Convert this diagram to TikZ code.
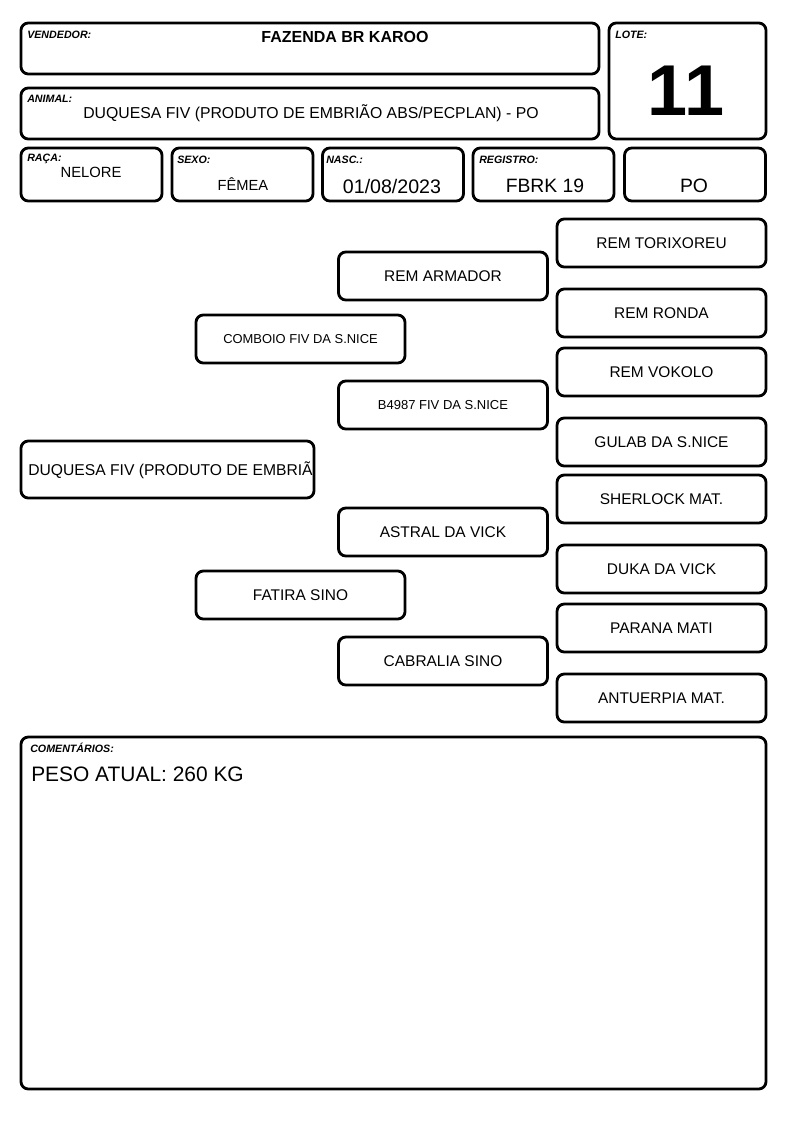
\documentclass[tikz,border=0pt]{standalone}
\usepackage{fontspec}
\setmainfont{Liberation Sans}
\usetikzlibrary{positioning}
\tikzstyle{box} = [rectangle, rounded corners=5.5pt, draw=black, line width=2.1pt, inner sep=0pt, outer sep=0pt]
\tikzstyle{field} = [box, minimum width=105.75pt, minimum height=39.75pt]
\tikzstyle{ancestor} = [box, minimum width=156.75pt, minimum height=36pt, font=\fontsize{11.6}{14}\selectfont]
\tikzstyle{tag} = [anchor=west, inner sep=0pt, font=\fontsize{8}{9}\selectfont\bfseries\itshape]
\tikzstyle{value} = [inner sep=0pt, font=\fontsize{12}{14}\selectfont]

\begin{document}
\begin{tikzpicture}[x=0.75pt, y=-0.75pt]
                \useasboundingbox (0,0) rectangle (794,1123);
                % header
                \node (vendedor) [box, minimum width=433.5pt, minimum height=38.25pt] at (310,48.5) {};
                \node (lote) [box, minimum width=117.75pt, minimum height=87pt] at (687.5,81) {};
                \node (animal) [box, minimum width=433.5pt, minimum height=38.25pt] at (310,113.5) {};
                \node (raca) [field] at (91.5,174.5) {};
                \node (sexo) [field] at (242.5,174.5) {};
                \node (nasc) [field] at (393,174.5) {};
                \node (registro) [field] at (543.5,174.5) {};
                \node (categoria) [field] at (695,174.5) {};

                \node [tag] at (27,35) {VENDEDOR:};
                \node [value, font=\fontsize{12}{14}\selectfont\bfseries] at (345,37) {FAZENDA BR KAROO};
                \node [tag] at (615,35) {LOTE:};
                \node [value, font=\fontsize{54}{56}\selectfont\bfseries] at (686,91) {11};
                \node [tag] at (27,99) {ANIMAL:};
                \node [value, anchor=west, font=\fontsize{11.85}{14}\selectfont] at (83,113) {DUQUESA FIV (PRODUTO DE EMBRIÃO ABS/PECPLAN) - PO};
                \node [tag] at (27,159) {RAÇA:};
                \node [value, font=\fontsize{11.1}{13}\selectfont] at (91,172) {NELORE};
                \node [tag] at (177,160) {SEXO:};
                \node [value, font=\fontsize{11}{13}\selectfont] at (243,184) {FÊMEA};
                \node [tag] at (326,160) {NASC.:};
                \node [value, font=\fontsize{14.7}{16}\selectfont] at (392,186) {01/08/2023};
                \node [tag] at (479,160) {REGISTRO:};
                \node [value, font=\fontsize{14.5}{16}\selectfont] at (545,186) {FBRK 19};
                \node [value, font=\fontsize{14.5}{16}\selectfont] at (694,186) {PO};

                % pedigree
                \node (duquesa) [box, minimum width=219.75pt, minimum height=42.75pt] at (167.5,469.5) {};
                \node [value, anchor=west, font=\fontsize{11.75}{14}\selectfont] at (28,470) {DUQUESA FIV (PRODUTO DE EMBRIÃ};
                \node (pai) [ancestor, font=\fontsize{9.7}{12}\selectfont] at (300.5,339) {COMBOIO FIV DA S.NICE};
                \node (mae) [ancestor] at (300.5,595) {FATIRA SINO};
                \node (avo1) [ancestor] at (443,276) {REM ARMADOR};
                \node (avo2) [ancestor, font=\fontsize{9.75}{12}\selectfont] at (443,405) {B4987 FIV DA S.NICE};
                \node (avo3) [ancestor] at (443,532) {ASTRAL DA VICK};
                \node (avo4) [ancestor] at (443,661) {CABRALIA SINO};
                \node (bis1) [ancestor] at (661.5,243) {REM TORIXOREU};
                \node (bis2) [ancestor] at (661.5,313) {REM RONDA};
                \node (bis3) [ancestor] at (661.5,372) {REM VOKOLO};
                \node (bis4) [ancestor] at (661.5,442) {GULAB DA S.NICE};
                \node (bis5) [ancestor] at (661.5,499) {SHERLOCK MAT.};
                \node (bis6) [ancestor] at (661.5,569) {DUKA DA VICK};
                \node (bis7) [ancestor] at (661.5,628) {PARANA MATI};
                \node (bis8) [ancestor] at (661.5,698) {ANTUERPIA MAT.};

                % comments
                \node (comentarios) [box, minimum width=558.75pt, minimum height=264pt] at (393.5,913) {};
                \node [tag] at (30,748) {COMENTÁRIOS:};
                \node [value, anchor=west, font=\fontsize{15.7}{18}\selectfont] at (31,774) {PESO ATUAL: 260 KG};
            \end{tikzpicture}
\end{document}
